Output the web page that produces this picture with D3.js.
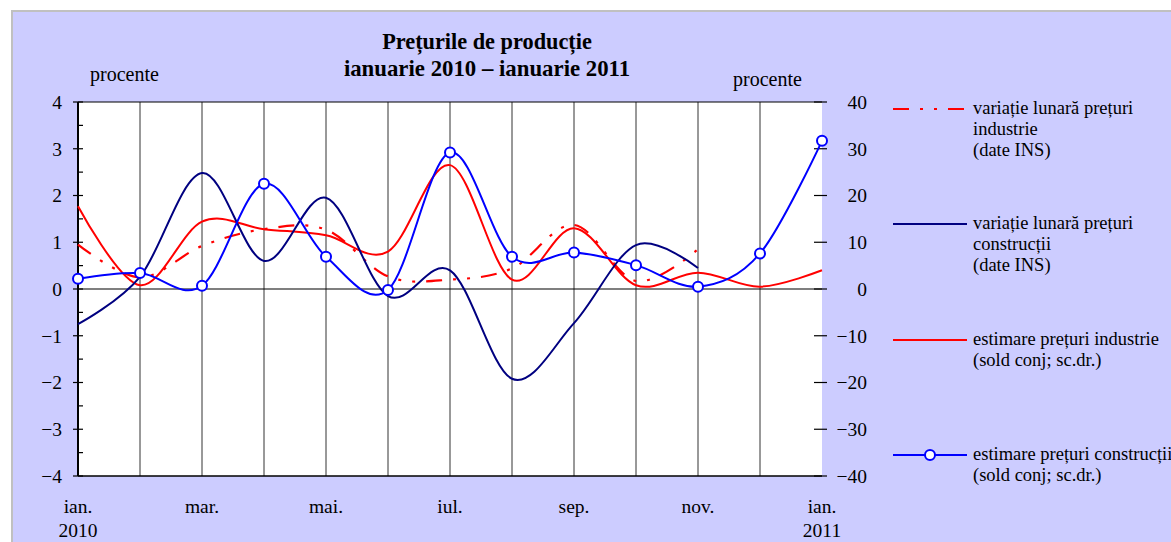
<!DOCTYPE html>
<html><head><meta charset="utf-8">
<script src="https://cdn.jsdelivr.net/npm/d3@7"></script>
<style>html,body{margin:0;padding:0;background:#fff;} text{font-family:"Liberation Serif","Times New Roman",serif;fill:#000;}</style>
</head><body><svg id="c" width="1171" height="542"></svg>
<script>
// ---- data (month index 0 = ian. 2010 ... 12 = ian. 2011) ----
const monthLabels = ["ian.","feb.","mar.","apr.","mai.","iun.","iul.","aug.","sep.","oct.","nov.","dec.","ian."];
const shownMonthTicks = [0,2,4,6,8,10,12];
const yearLabels = [{m:0,t:"2010"},{m:12,t:"2011"}];
const leftTicks = [-4,-3,-2,-1,0,1,2,3,4];
const rightTicks = [-40,-30,-20,-10,0,10,20,30,40];
// variație lunară prețuri industrie (date INS) – left axis, %
const varIndustrie = [0.95, 0.25, 0.92, 1.28, 1.27, 0.27, 0.20, 0.44, 1.37, 0.17, 0.85];
// variație lunară prețuri construcții (date INS) – left axis, %
const varConstructii = [-0.75, 0.26, 2.48, 0.60, 1.95, -0.15, 0.40, -1.92, -0.73, 0.94, 0.45];
// estimare prețuri industrie (sold conj; sc.dr.) – right axis
const estIndustrie = [17.7, 0.8, 14.4, 12.8, 11.5, 8.0, 26.5, 2.0, 13.0, 0.8, 3.5, 0.5, 4.0];
// estimare prețuri construcții (sold conj; sc.dr.) – right axis
const estConstructii = [2.2, 3.4, 0.7, 22.5, 6.9, -0.2, 29.2, 6.9, 7.8, 5.1, 0.5, 7.6, 31.7];
const titleLines = ["Prețurile de producție","ianuarie 2010 – ianuarie 2011"];
const legendItems = [
  {lines:["variație lunară prețuri","industrie","(date INS)"], color:"#FF0000", dash:"16,11,3,11,3,11", marker:false},
  {lines:["variație lunară prețuri","construcții","(date INS)"], color:"#000080", dash:null, marker:false},
  {lines:["estimare prețuri industrie","(sold conj; sc.dr.)"], color:"#FF0000", dash:null, marker:false},
  {lines:["estimare prețuri construcții","(sold conj; sc.dr.)"], color:"#0000FF", dash:null, marker:true}
];

const svg = d3.select("#c");
const L = 78, R = 822, T = 102, B = 476;
const x = d3.scaleLinear().domain([0,12]).range([L,R]);
const yL = d3.scaleLinear().domain([-4,4]).range([B,T]);
const yR = d3.scaleLinear().domain([-40,40]).range([B,T]);
const FS = "19.5px";

// background
svg.append("rect").attr("x",12).attr("y",11).attr("width",1170).attr("height",540)
  .attr("fill","#CCCCFF").attr("stroke","#C0C0C0").attr("stroke-width",2);
svg.append("rect").attr("x",L).attr("y",T).attr("width",R-L).attr("height",B-T).attr("fill","#fff");

// vertical month gridlines
svg.append("g").selectAll("line").data(d3.range(1,12)).join("line")
  .attr("x1",d=>x(d)).attr("x2",d=>x(d)).attr("y1",T).attr("y2",B)
  .attr("stroke","#333").attr("stroke-width",1);

// frame top/bottom
svg.append("line").attr("x1",L).attr("x2",R).attr("y1",T).attr("y2",T).attr("stroke","#000").attr("stroke-width",1.2);
svg.append("line").attr("x1",L).attr("x2",R).attr("y1",B).attr("y2",B).attr("stroke","#000").attr("stroke-width",1.5);
// zero line
svg.append("line").attr("x1",L).attr("x2",R).attr("y1",yL(0)).attr("y2",yL(0)).attr("stroke","#000").attr("stroke-width",1.2);

// left axis
const gL = svg.append("g");
gL.append("line").attr("x1",L).attr("x2",L).attr("y1",T).attr("y2",B).attr("stroke","#000").attr("stroke-width",2);
gL.selectAll("line.maj").data(leftTicks).join("line").attr("class","maj")
  .attr("x1",L-5).attr("x2",L+5).attr("y1",d=>yL(d)).attr("y2",d=>yL(d)).attr("stroke","#000").attr("stroke-width",1.2);
gL.selectAll("line.min").data(d3.range(-3.5,4,1)).join("line").attr("class","min")
  .attr("x1",L).attr("x2",L+5).attr("y1",d=>yL(d)).attr("y2",d=>yL(d)).attr("stroke","#000").attr("stroke-width",1.2);
gL.selectAll("text").data(leftTicks).join("text")
  .attr("x",62).attr("y",d=>yL(d)).attr("dy","0.35em").attr("text-anchor","end")
  .style("font-size",FS).text(d=>d<0?"\u2212"+Math.abs(d):d);

// right axis
const gR = svg.append("g");
gR.append("line").attr("x1",R).attr("x2",R).attr("y1",T).attr("y2",B).attr("stroke","#000").attr("stroke-width",1.5);
gR.selectAll("line").data(rightTicks).join("line").attr("class","maj")
  .attr("x1",R-8).attr("x2",R+5).attr("y1",d=>yR(d)).attr("y2",d=>yR(d)).attr("stroke","#000").attr("stroke-width",1.2);
gR.selectAll("text").data(rightTicks).join("text")
  .attr("x",867).attr("y",d=>yR(d)).attr("dy","0.35em").attr("text-anchor","end")
  .style("font-size",FS).text(d=>d<0?"\u2212"+Math.abs(d):d);

// x labels
svg.append("g").selectAll("text").data(shownMonthTicks).join("text")
  .attr("x",d=>x(d)).attr("y",513).attr("text-anchor","middle").style("font-size",FS)
  .text(d=>monthLabels[d]);
svg.append("g").selectAll("text").data(yearLabels).join("text")
  .attr("x",d=>x(d.m)).attr("y",537).attr("text-anchor","middle").style("font-size",FS)
  .text(d=>d.t);

// "procente"
svg.append("text").attr("x",90).attr("y",81).style("font-size","20px").text("procente");
svg.append("text").attr("x",733).attr("y",86).style("font-size","20px").text("procente");

// title
svg.append("g").selectAll("text").data(titleLines).join("text")
  .attr("x",487).attr("y",(d,i)=>49+i*27).attr("text-anchor","middle")
  .style("font-size",(d,i)=>i===0?"22.3px":"22.8px").style("font-weight","bold").text(d=>d);

// series
const curve = d3.curveCardinal.tension(0);
const lineL = d3.line().x((d,i)=>x(i)).y(d=>yL(d)).curve(curve);
const lineR = d3.line().x((d,i)=>x(i)).y(d=>yR(d)).curve(curve);
const plot = svg.append("g");
plot.append("path").attr("d",lineR(estIndustrie)).attr("fill","none").attr("stroke","#FF0000").attr("stroke-width",2);
plot.append("path").attr("d",lineL(varIndustrie)).attr("fill","none").attr("stroke","#FF0000").attr("stroke-width",2.2).attr("stroke-dasharray",legendItems[0].dash);
plot.append("path").attr("d",lineL(varConstructii)).attr("fill","none").attr("stroke","#000080").attr("stroke-width",2);
plot.append("path").attr("d",lineR(estConstructii)).attr("fill","none").attr("stroke","#0000FF").attr("stroke-width",2);
plot.selectAll("circle").data(estConstructii).join("circle")
  .attr("cx",(d,i)=>x(i)).attr("cy",d=>yR(d)).attr("r",5)
  .attr("fill","#fff").attr("stroke","#0000FF").attr("stroke-width",2);

// legend
const legY = [109, 224, 340, 455];
const lg = svg.append("g");
legendItems.forEach((it,k)=>{
  const y0 = legY[k];
  lg.append("line").attr("x1",893).attr("x2",967).attr("y1",y0).attr("y2",y0)
    .attr("stroke",it.color).attr("stroke-width",2).attr("stroke-dasharray",it.dash);
  if(it.marker) lg.append("circle").attr("cx",930).attr("cy",y0).attr("r",5).attr("fill","#fff").attr("stroke",it.color).attr("stroke-width",2);
  it.lines.forEach((t,j)=>{
    lg.append("text").attr("x",973).attr("y",y0+5+j*21).style("font-size","18.5px").text(t);
  });
});
</script></body></html>
